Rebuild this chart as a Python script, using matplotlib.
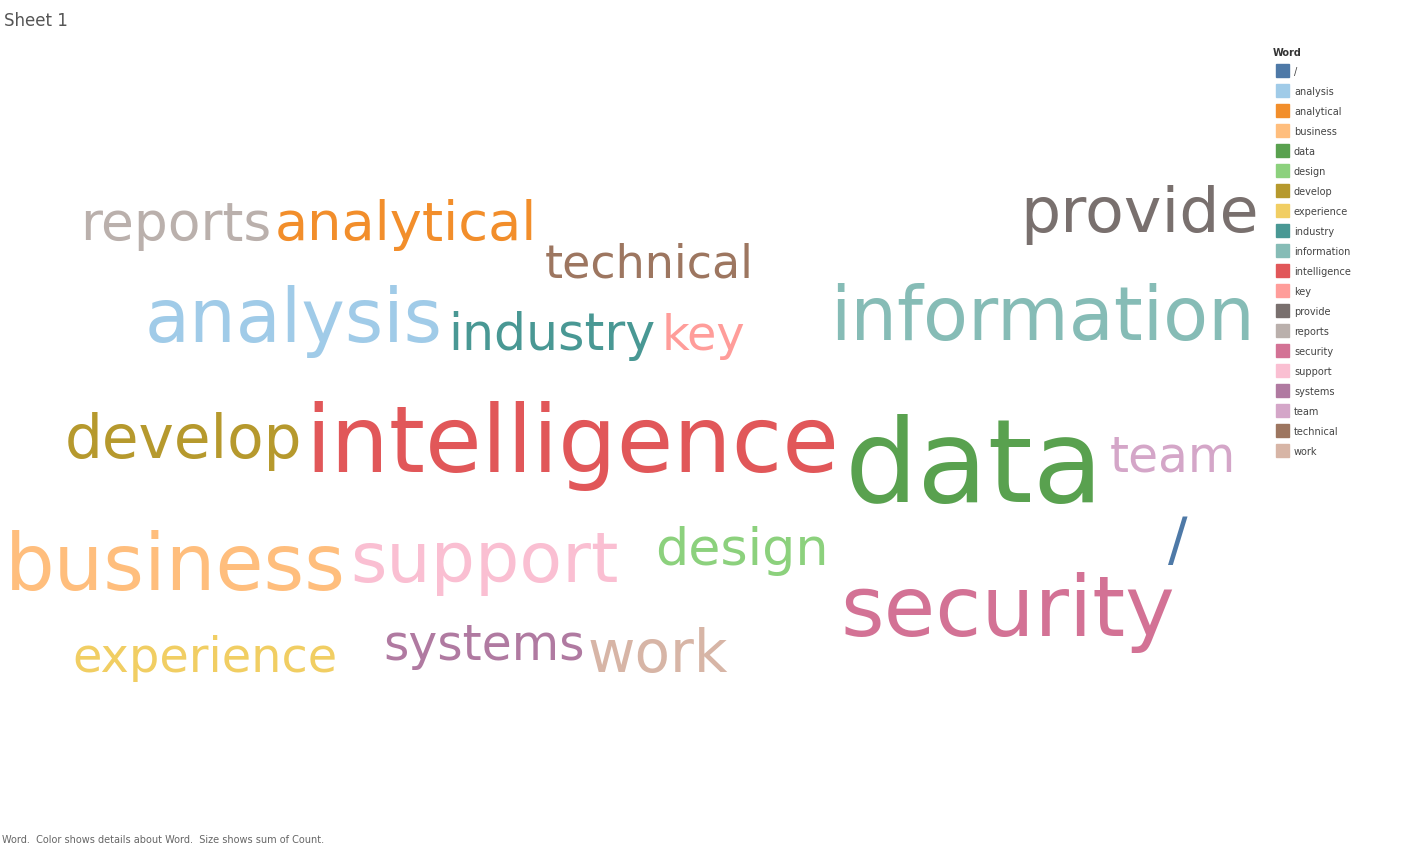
import matplotlib
matplotlib.use("Agg")
import matplotlib.pyplot as plt
from matplotlib.patches import Rectangle

W, H = 1412, 848

# word list (legend order) and colours
words = ["/", "analysis", "analytical", "business", "data", "design", "develop",
         "experience", "industry", "information", "intelligence", "key", "provide",
         "reports", "security", "support", "systems", "team", "technical", "work"]
colors = ["#4e79a7", "#a0cbe8", "#f28e2b", "#ffbe7d", "#59a14f", "#8cd17d", "#b6992d",
          "#f1ce63", "#499894", "#86bcb6", "#e15759", "#ff9d9a", "#79706e",
          "#bab0ac", "#d37295", "#fabfd2", "#b07aa1", "#d4a6c8", "#9d7660", "#d7b5a6"]
# sum of Count (estimated from word sizes)
counts = [63, 80, 59, 85, 125, 57, 65, 52, 55, 80, 100, 52, 69, 58, 91, 76, 53, 53, 50, 63]

# layout of the cloud: left x and baseline y in pixels
layout = {
    "/": (1168, 560), "analysis": (145, 342), "analytical": (275, 240),
    "business": (5, 590), "data": (845, 502), "design": (655, 565),
    "develop": (65, 458), "experience": (72, 672), "industry": (448, 350),
    "information": (830, 340), "intelligence": (305, 472), "key": (662, 350),
    "provide": (1020, 232), "reports": (80, 240), "security": (840, 636),
    "support": (350, 582), "systems": (383, 660), "team": (1110, 472),
    "technical": (545, 278), "work": (588, 672),
}

fig = plt.figure(figsize=(W / 100, H / 100), dpi=100)
fig.patch.set_facecolor("white")


def fx(x):
    return x / W


def fy(y):
    return 1 - y / H


scale = 0.72 * 0.92
for w, c, n in zip(words, colors, counts):
    x, y = layout[w]
    fig.text(fx(x), fy(y), w, color=c, fontsize=n * scale, ha="left", va="baseline")

fig.text(fx(4), fy(21), "Sheet 1", fontsize=12, color="#555555", ha="left", va="center")
fig.text(fx(2), fy(840), "Word.  Color shows details about Word.  Size shows sum of Count.",
         fontsize=7, color="#666666", ha="left", va="center")

# legend
fig.text(fx(1273), fy(53), "Word", fontsize=7, fontweight="bold", color="#333333",
         ha="left", va="center")
for i, (w, c) in enumerate(zip(words, colors)):
    yy = 71 + i * 20
    fig.patches.append(Rectangle((fx(1276), fy(yy + 6)), 13 / W, 13 / H, color=c,
                                 transform=fig.transFigure, figure=fig))
    fig.text(fx(1294), fy(yy + 1), w, fontsize=7, color="#444444", ha="left", va="center")

fig.savefig("out.png", dpi=100)
